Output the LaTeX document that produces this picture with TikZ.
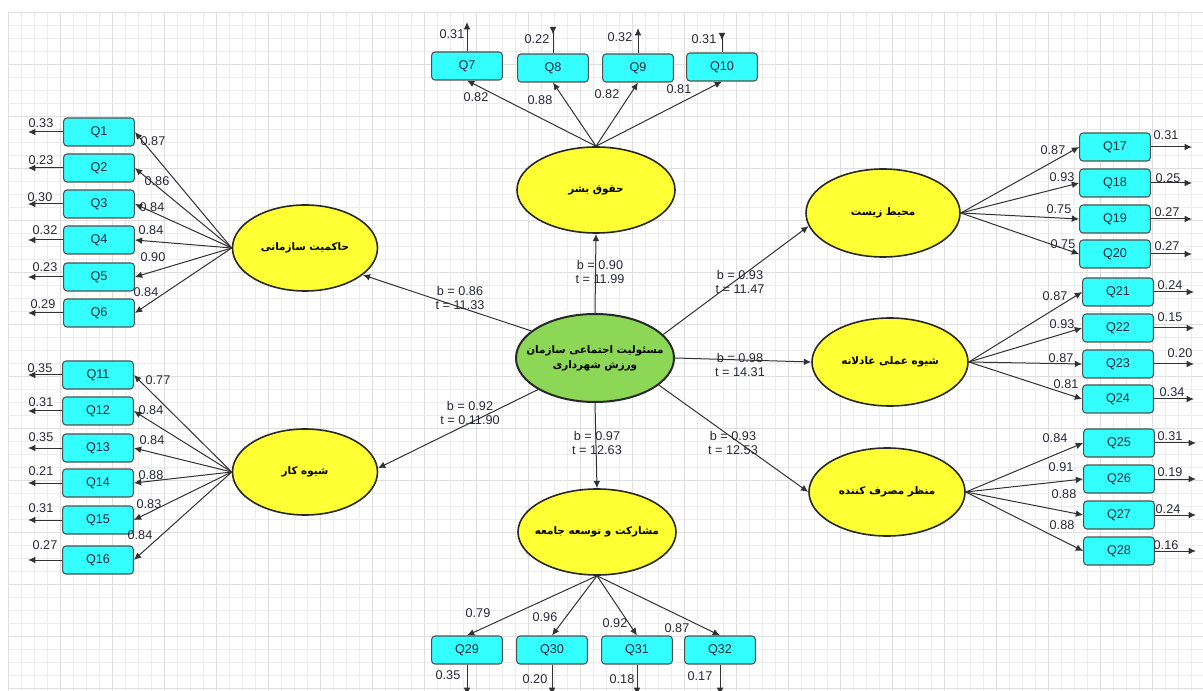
\documentclass[tikz,border=0pt]{standalone}
\usepackage{fontspec}
\setmainfont{Liberation Sans}
\newfontfamily\arabicfont[Script=Arabic]{DejaVu Sans}
\TeXXeTstate=1
\usetikzlibrary{shapes.geometric,arrows.meta,calc}
\definecolor{latyellow}{RGB}{255,255,51}
\definecolor{latgreen}{RGB}{140,216,86}
\definecolor{boxcyan}{RGB}{51,255,255}
\definecolor{numcol}{RGB}{40,40,55}
\definecolor{edgecol}{RGB}{50,50,50}
\definecolor{gridmin}{RGB}{236,236,236}
\definecolor{gridmaj}{RGB}{222,222,222}
\tikzset{
  lat/.style={ellipse, draw={rgb,255:red,40;green,40;blue,40}, line width=1.2pt, fill=latyellow,
    inner sep=-12pt, font=\arabicfont\bfseries\fontsize{7.8}{11.5}\selectfont, align=center},
  qbox/.style={draw={rgb,255:red,80;green,80;blue,80}, line width=0.8pt, fill=boxcyan, rounded corners=2.5pt,
    minimum width=53pt, minimum height=21pt, inner sep=0pt, font=\fontsize{9.5}{10}\selectfont, text=numcol},
  ar/.style={draw=edgecol, line width=0.75pt, -{Latex[length=5.5pt,width=5pt]}},
  arrev/.style={draw=edgecol, line width=0.75pt, -{Latex[length=5.5pt,width=5pt,reversed]}},
  num/.style={font=\fontsize{9.5}{10}\selectfont, text=numcol, inner sep=1pt},
  struct/.style={font=\fontsize{9.5}{11}\selectfont, text=numcol, inner sep=1pt, align=center},
}
\begin{document}
\begin{tikzpicture}[x=0.75pt,y=-0.75pt]
\useasboundingbox (0,0) rectangle (1203,691);
\fill[white] (0,0) rectangle (1203,691);
% grid
\foreach \x in {8,21,...,1203} \draw[gridmin, line width=0.5pt] (\x,12) -- (\x,691);
\foreach \y in {12,25,...,691} \draw[gridmin, line width=0.5pt] (8,\y) -- (1203,\y);
\foreach \x in {8,60,...,1203} \draw[gridmaj, line width=0.6pt] (\x,12) -- (\x,691);
\foreach \y in {12,64,...,691} \draw[gridmaj, line width=0.6pt] (8,\y) -- (1203,\y);

% latent variables
\node[lat, fill=latgreen, line width=1.5pt, minimum width=118.5pt, minimum height=66pt] (C) at (595,358)
  {\beginR مسئولیت اجتماعی سازمان\endR\\\beginR ورزش شهرداری\endR};
\node[lat, minimum width=118.5pt, minimum height=64.5pt] (HR) at (596,190) {\beginR حقوق بشر\endR};
\node[lat, minimum width=108.75pt, minimum height=64.5pt] (LH) at (305,248) {\beginR حاکمیت سازمانی\endR};
\node[lat, minimum width=108.75pt, minimum height=64.5pt] (LW) at (305,472) {\beginR شیوه کار\endR};
\node[lat, minimum width=118.5pt, minimum height=64.5pt] (LP) at (597,532) {\beginR مشارکت و توسعه جامعه\endR};
\node[lat, minimum width=115.5pt, minimum height=66pt] (LE) at (883,213) {\beginR محیط زیست\endR};
\node[lat, minimum width=117pt, minimum height=66pt] (LF) at (890,362) {\beginR شیوه عملی عادلانه\endR};
\node[lat, minimum width=117pt, minimum height=66pt] (LC) at (887,492) {\beginR منظر مصرف کننده\endR};

% structural paths
\draw[ar] (C.north) -- (HR.south);
\draw[ar] (C.157) -- (LH.335);
\draw[ar] (C.209) -- (LW.3);
\draw[ar] (C.south) -- (LP.north);
\draw[ar] (C.19) -- (LE.190);
\draw[ar] (C.east) -- (LF.west);
\draw[ar] (C.337) -- (LC.west);
\node[struct] (s1) at (600,272) {b = 0.90\\t = 11.99};
\node[struct] (s2) at (460,298) {b = 0.86\\t = 11.33};
\node[struct] (s3) at (470,413) {b = 0.92\\t = 0.11.90};
\node[struct] (s4) at (597,443) {b = 0.97\\t = 12.63};
\node[struct] (s5) at (733,443) {b = 0.93\\t = 12.53};
\node[struct] (s6) at (740,365) {b = 0.98\\t = 14.31};
\node[struct] (s7) at (740,282) {b = 0.93\\t = 11.47};

% left upper: Q1-Q6
\foreach \n/\y/\lv/\lx/\ly/\ev/\ex/\ey in {
  1/132/0.87/153/141/0.33/41/123,
  2/168/0.86/157/181/0.23/41/160,
  3/204/0.84/152/207/0.30/40/197,
  4/240/0.84/151/230/0.32/45/230,
  5/277/0.90/153/257/0.23/45/267,
  6/313/0.84/146/292/0.29/43/304}{
  \node[qbox] (Q\n) at (99,\y) {Q\n};
  \draw[ar] (LH.west) -- (Q\n.east);
  \coordinate (e\n) at (28,\y);
  \draw[ar] (Q\n.west) -- (e\n);
  \node[num] (l\n) at (\lx,\ly) {\lv};
  \node[num] (el\n) at (\ex,\ey) {\ev};
}
% left lower: Q11-Q16
\foreach \n/\y/\lv/\lx/\ly/\ev/\ex/\ey in {
  11/375/0.77/158/380/0.35/40/368,
  12/411/0.84/151/410/0.31/41/402,
  13/448/0.84/152/440/0.35/41/437,
  14/483/0.88/151/475/0.21/41/471,
  15/520/0.83/149/504/0.31/41/508,
  16/560/0.84/140/535/0.27/45/545}{
  \node[qbox] (Q\n) at (98,\y) {Q\n};
  \draw[ar] (LW.west) -- (Q\n.east);
  \coordinate (e\n) at (28,\y);
  \draw[ar] (Q\n.west) -- (e\n);
  \node[num] (l\n) at (\lx,\ly) {\lv};
  \node[num] (el\n) at (\ex,\ey) {\ev};
}
% top: Q7-Q10
\foreach \n/\x/\y/\lv/\lx/\ly/\ev/\ex/\ey/\ty/\st in {
  7/467/66/0.82/476/97/0.31/452/34/22/ar,
  8/553/68/0.88/540/100/0.22/537/39/27/arrev,
  9/638/68/0.82/607/94/0.32/620/37/28/ar,
  10/722/67/0.81/679/89/0.31/704/39/33/arrev}{
  \node[qbox] (Q\n) at (\x,\y) {Q\n};
  \draw[ar] (HR.north) -- (Q\n.south);
  \coordinate (e\n) at (\x,\ty);
  \draw[\st] (Q\n.north) -- (e\n);
  \node[num] (l\n) at (\lx,\ly) {\lv};
  \node[num] (el\n) at (\ex,\ey) {\ev};
}
% bottom: Q29-Q32
\foreach \n/\x/\lv/\lx/\ly/\ev/\ex/\ey in {
  29/467/0.79/478/613/0.35/448/675,
  30/552/0.96/545/617/0.20/535/679,
  31/637/0.92/615/623/0.18/622/679,
  32/720/0.87/677/628/0.17/700/676}{
  \node[qbox] (Q\n) at (\x,650) {Q\n};
  \draw[ar] (LP.south) -- (Q\n.north);
  \coordinate (e\n) at (\x,695);
  \draw[ar] (Q\n.south) -- (e\n);
  \node[num] (l\n) at (\lx,\ly) {\lv};
  \node[num] (el\n) at (\ex,\ey) {\ev};
}
% right: Q17-Q20
\foreach \n/\y/\lv/\lx/\ly/\ev/\ex/\ey in {
  17/147/0.87/1053/150/0.31/1166/135,
  18/183/0.93/1062/177/0.25/1168/178,
  19/219/0.75/1059/209/0.27/1167/212,
  20/254/0.75/1063/244/0.27/1167/246}{
  \node[qbox] (Q\n) at (1115,\y) {Q\n};
  \draw[ar] (LE.east) -- (Q\n.west);
  \coordinate (e\n) at (1192,\y);
  \draw[ar] (Q\n.east) -- (e\n);
  \node[num] (l\n) at (\lx,\ly) {\lv};
  \node[num] (el\n) at (\ex,\ey) {\ev};
}
% right: Q21-Q24
\foreach \n/\y/\lv/\lx/\ly/\ev/\ex/\ey in {
  21/292/0.87/1055/296/0.24/1170/285,
  22/328/0.93/1062/324/0.15/1170/317,
  23/364/0.87/1061/358/0.20/1180/353,
  24/399/0.81/1066/384/0.34/1172/392}{
  \node[qbox] (Q\n) at (1118,\y) {Q\n};
  \draw[ar] (LF.east) -- (Q\n.west);
  \coordinate (e\n) at (1194,\y);
  \draw[ar] (Q\n.east) -- (e\n);
  \node[num] (l\n) at (\lx,\ly) {\lv};
  \node[num] (el\n) at (\ex,\ey) {\ev};
}
% right: Q25-Q28
\foreach \n/\y/\lv/\lx/\ly/\ev/\ex/\ey in {
  25/443/0.84/1055/438/0.31/1170/436,
  26/479/0.91/1061/467/0.19/1170/472,
  27/515/0.88/1064/494/0.24/1168/509,
  28/551/0.88/1062/525/0.16/1166/545}{
  \node[qbox] (Q\n) at (1119,\y) {Q\n};
  \draw[ar] (LC.east) -- (Q\n.west);
  \coordinate (e\n) at (1196,\y);
  \draw[ar] (Q\n.east) -- (e\n);
  \node[num] (l\n) at (\lx,\ly) {\lv};
  \node[num] (el\n) at (\ex,\ey) {\ev};
}
\end{tikzpicture}
\end{document}
